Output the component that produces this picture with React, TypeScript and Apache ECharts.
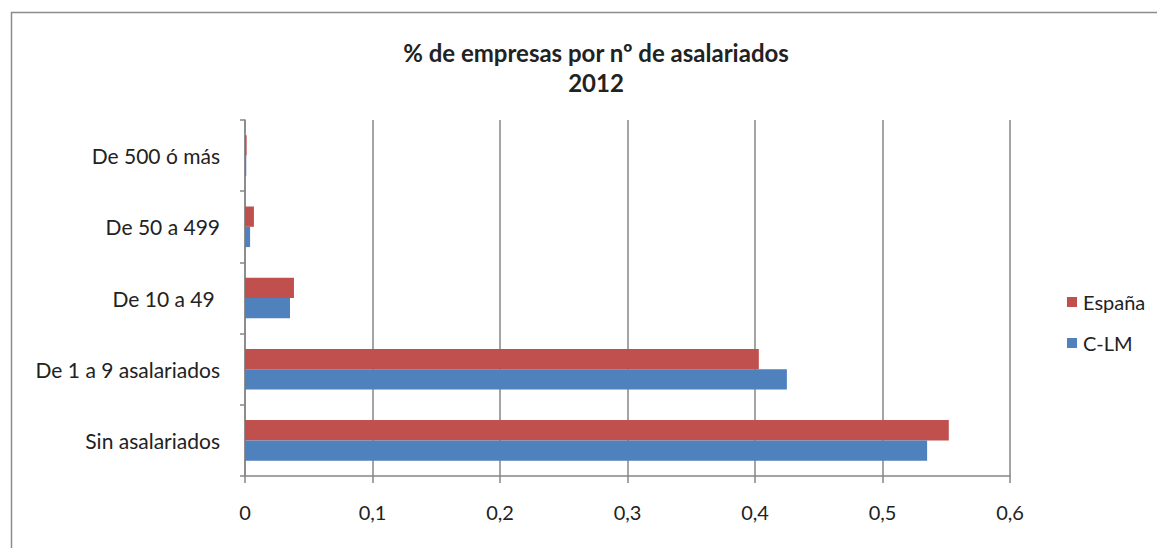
import React, { useEffect, useRef } from "react";
import * as echarts from "echarts";

const categories = ["Sin asalariados", "De 1 a 9 asalariados", "De 10 a 49 ", "De 50 a 499", "De 500 ó más"];
const espanaValues = [0.552, 0.403, 0.0384, 0.007, 0.0013];
const clmValues = [0.535, 0.425, 0.0353, 0.004, 0.001];
const xTicks = [0, 0.1, 0.2, 0.3, 0.4, 0.5, 0.6];

const FONT = "Lato, 'Noto Sans', sans-serif";

export default function App() {
  const ref = useRef<HTMLDivElement>(null);
  useEffect(() => {
    if (!ref.current) return;
    const chart = echarts.init(ref.current, null, { renderer: "svg" });
    chart.setOption({
      animation: false,
      backgroundColor: "#ffffff",
      title: {
        text: "% de empresas por nº de asalariados\n2012",
        left: 591,
        top: 32,
        textAlign: "center",
        textStyle: {
          fontFamily: FONT,
          fontWeight: "bold",
          fontSize: 24,
          lineHeight: 30,
          color: "#222",
        },
      },
      graphic: [
        {
          type: "rect",
          shape: { x: 11.5, y: 12.5, width: 1300, height: 700 },
          style: { fill: "none", stroke: "#8c8c8c", lineWidth: 1.5 },
          silent: true,
          z: -1,
        },
      ],
      legend: {
        orient: "vertical",
        left: 1062,
        top: 287,
        itemWidth: 10,
        itemHeight: 10,
        itemGap: 21,
        icon: "rect",
        data: ["España", "C-LM"],
        textStyle: { fontFamily: FONT, fontSize: 20, color: "#222", padding: [0, 0, 0, 1] },
      },
      grid: { left: 245, right: 147, top: 120, bottom: 72, containLabel: false },
      xAxis: {
        type: "value",
        min: 0,
        max: 0.6,
        interval: 0.1,
        axisLine: { show: true, lineStyle: { color: "#868686", width: 1.5 } },
        axisTick: { show: true, length: 7, lineStyle: { color: "#868686", width: 1.5 } },
        splitLine: { show: true, lineStyle: { color: "#868686", width: 1.5 } },
        axisLabel: {
          margin: 26,
          fontFamily: FONT,
          fontSize: 20,
          color: "#222",
          formatter: (v: number) => {
            const t = xTicks.find((x) => Math.abs(x - v) < 1e-9);
            return t === undefined ? "" : String(t).replace(".", ",");
          },
        },
      },
      yAxis: {
        type: "category",
        data: categories,
        axisLine: { show: true, lineStyle: { color: "#868686", width: 1.5 } },
        axisTick: { show: true, length: 5, lineStyle: { color: "#868686", width: 1.5 } },
        axisLabel: { margin: 25, fontFamily: FONT, fontSize: 21, color: "#222" },
      },
      series: [
        {
          name: "España",
          type: "bar",
          data: espanaValues,
          barGap: "0%",
          barCategoryGap: "43%",
          itemStyle: { color: "#C0504D" },
        },
        {
          name: "C-LM",
          type: "bar",
          data: clmValues,
          barGap: "0%",
          barCategoryGap: "43%",
          itemStyle: { color: "#4F81BD" },
        },
      ],
    });
    return () => chart.dispose();
  }, []);
  return (
    <div
      ref={ref}
      style={{ position: "fixed", left: 0, top: 0, width: 1157, height: 548 }}
    />
  );
}
